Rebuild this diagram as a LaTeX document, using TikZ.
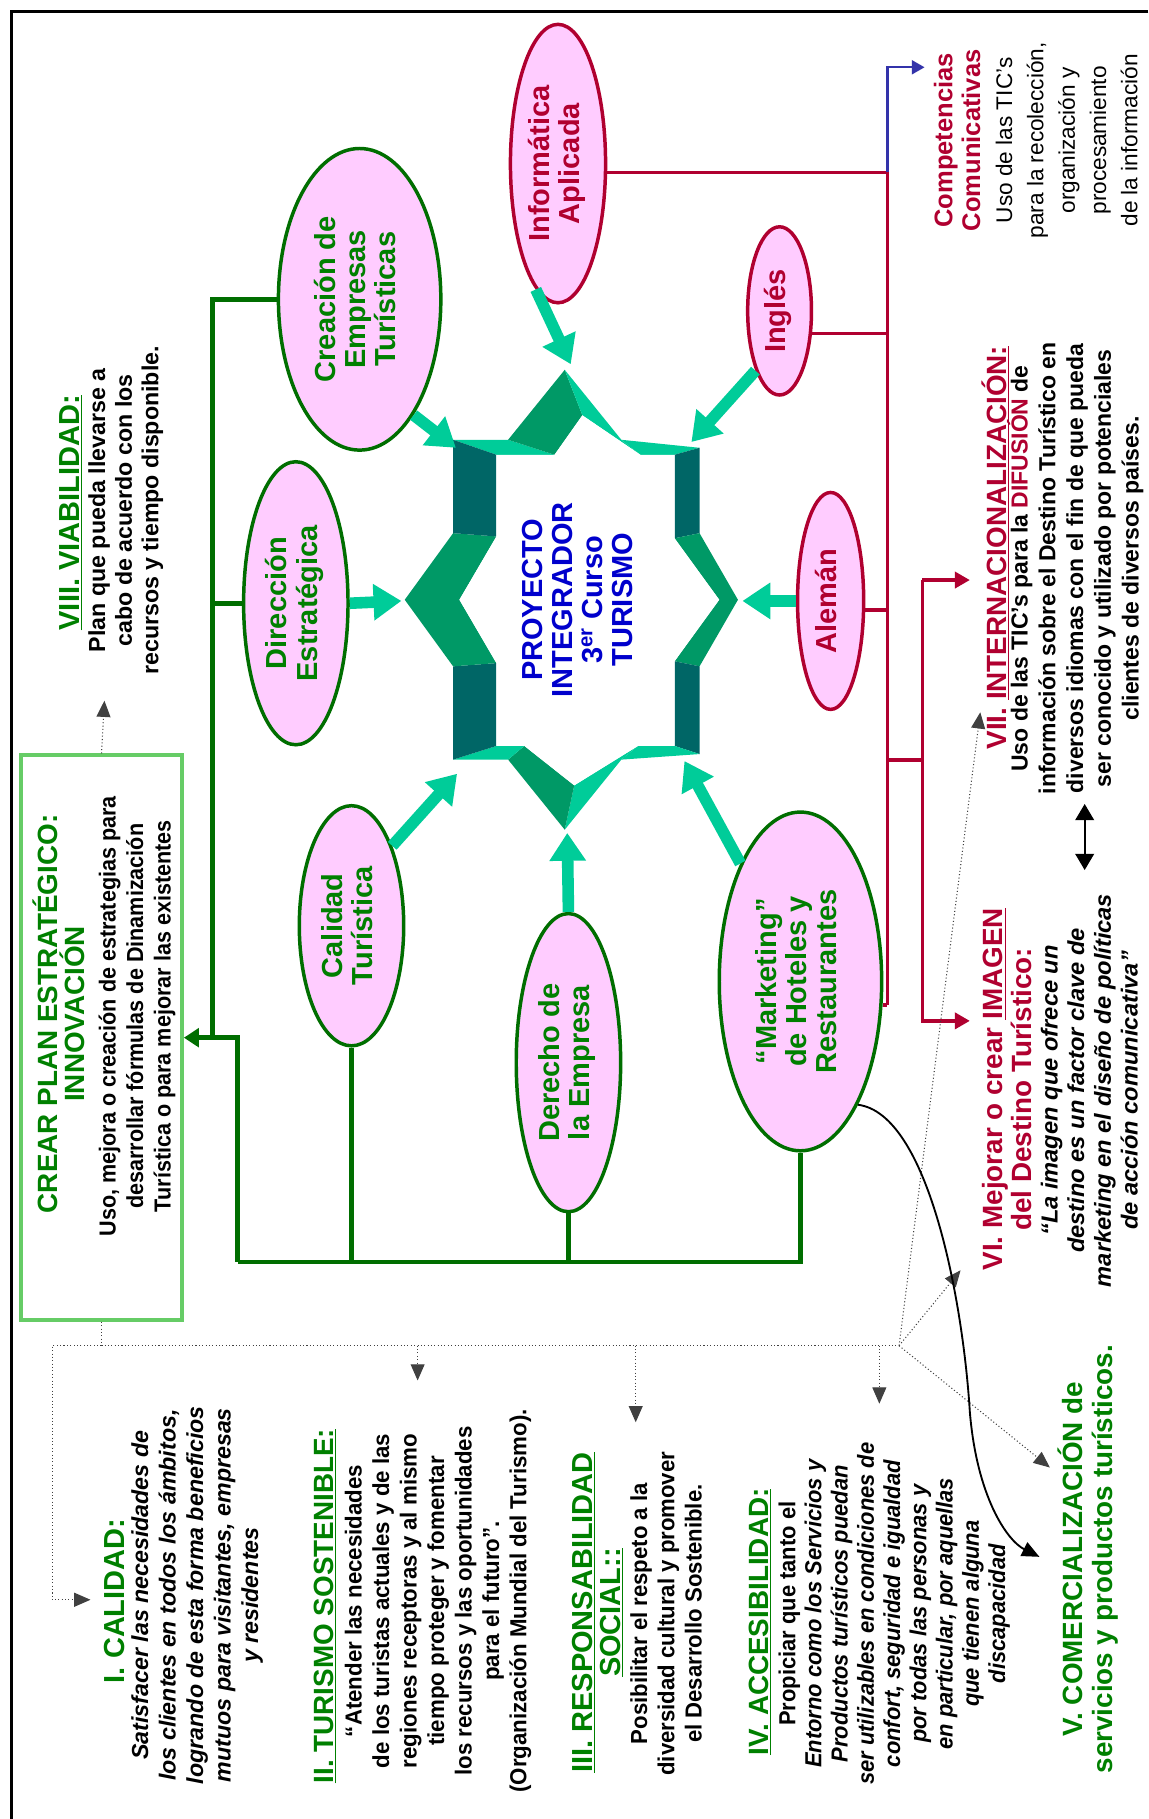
\documentclass[tikz,border=0pt]{standalone}
\usepackage{fontspec}
\setmainfont{Liberation Sans}
\usepackage{graphicx}
\usetikzlibrary{arrows.meta,shapes.geometric}
\definecolor{dgreen}{RGB}{0,110,0}
\definecolor{tgreen}{RGB}{0,128,0}
\definecolor{crim}{RGB}{176,0,48}
\definecolor{pinkfill}{RGB}{255,204,255}
\definecolor{aqua}{RGB}{0,204,153}
\definecolor{midg}{RGB}{0,153,102}
\definecolor{darkt}{RGB}{0,102,102}
\definecolor{bluet}{RGB}{0,0,204}
\definecolor{bline}{RGB}{51,51,170}
\definecolor{boxg}{RGB}{102,204,102}
\newcommand{\fs}[2]{\fontsize{#1pt}{#2pt}\selectfont}
\newcommand{\rt}[1]{\rotatebox{90}{\begin{tabular}{@{}c@{}}#1\end{tabular}}}
\newcommand{\bodytext}[2][0.97]{\scalebox{#1}[1]{\begin{tabular}{@{}c@{}}#2\end{tabular}}}
\begin{document}
\begin{tikzpicture}[x=1pt,y=-1pt,
  ellG/.style={ellipse, draw=dgreen, line width=3pt, fill=pinkfill, inner sep=0pt, text=tgreen, font=\bfseries\fs{25}{26}},
  ellR/.style={ellG, draw=crim, text=crim},
  gline/.style={draw=dgreen, line width=4pt},
  rline/.style={draw=crim, line width=3pt},
  fat/.style={draw=aqua, line width=10pt, -{Triangle[width=30pt,length=24pt]}},
  dotl/.style={draw=black!75, line width=0.9pt, dotted},
  tnode/.style={rotate=90, inner sep=0pt, align=center, font=\bfseries\fs{24}{25}},
  bnode/.style={rotate=90, inner sep=0pt, font=\bfseries\fs{20}{23.5}},
  ]
\useasboundingbox (0,0) rectangle (990,1568);
\fill[white] (0,0) rectangle (990,1568);
% frame
\coordinate (fr1) at (990,10); \coordinate (fr2) at (10,10); \coordinate (fr3) at (10,1568);
\draw[line width=3pt] (fr1) -- (fr2) -- (fr3);

% ---------- star ----------
\coordinate (o1) at (390.6,379.1); \coordinate (o2) at (438,379.1);
\coordinate (o3) at (486.8,318.8); \coordinate (o4) at (535.6,379.1);
\coordinate (o5) at (603,386);     \coordinate (o6) at (603,459.6);
\coordinate (o7) at (636.1,517);   \coordinate (o8) at (603,574.4);
\coordinate (o9) at (603,650);     \coordinate (o10) at (535.6,654.8);
\coordinate (o11) at (486.8,715.2);\coordinate (o12) at (438,654.8);
\coordinate (o13) at (390.6,654.8);\coordinate (o14) at (390.6,574.4);
\coordinate (o15) at (348.9,517);  \coordinate (o16) at (390.6,459.6);
\coordinate (i1) at (427.9,392); \coordinate (i2) at (478,392);
\coordinate (i3) at (502,358);     \coordinate (i4) at (552,392);
\coordinate (i5) at (581.5,392); \coordinate (i6) at (581.5,464);
\coordinate (i7) at (620,517);   \coordinate (i8) at (581.5,570);
\coordinate (i9) at (581.5,643); \coordinate (i10) at (550,643);
\coordinate (i11) at (495,677);\coordinate (i12) at (452,643);
\coordinate (i13) at (427.9,643);\coordinate (i14) at (427.9,571.6);
\coordinate (i15) at (396,517);  \coordinate (i16) at (427.9,462.4);
\fill[aqua]  (o1) -- (o2) -- (i2) -- (i1) -- cycle;
\fill[midg]  (o2) -- (o3) -- (i3) -- (i2) -- cycle;
\fill[aqua]  (o3) -- (o4) -- (i4) -- (i3) -- cycle;
\fill[aqua]  (o4) -- (o5) -- (i5) -- (i4) -- cycle;
\fill[darkt] (o5) -- (o6) -- (i6) -- (i5) -- cycle;
\fill[midg]  (o6) -- (o7) -- (i7) -- (i6) -- cycle;
\fill[midg]  (o7) -- (o8) -- (i8) -- (i7) -- cycle;
\fill[darkt] (o8) -- (o9) -- (i9) -- (i8) -- cycle;
\fill[aqua]  (o9) -- (o10) -- (i10) -- (i9) -- cycle;
\fill[aqua]  (o10) -- (o11) -- (i11) -- (i10) -- cycle;
\fill[midg]  (o11) -- (o12) -- (i12) -- (i11) -- cycle;
\fill[aqua]  (o12) -- (o13) -- (i13) -- (i12) -- cycle;
\fill[darkt] (o13) -- (o14) -- (i14) -- (i13) -- cycle;
\fill[midg]  (o14) -- (o15) -- (i15) -- (i14) -- cycle;
\fill[midg]  (o15) -- (o16) -- (i16) -- (i15) -- cycle;
\fill[darkt] (o16) -- (o1) -- (i1) -- (i16) -- cycle;
\fill[white] (i1) -- (i2) -- (i3) -- (i4) -- (i5) -- (i6) -- (i7) -- (i8) -- (i9) -- (i10) -- (i11) -- (i12) -- (i13) -- (i14) -- (i15) -- (i16) -- cycle;
\node[rotate=90, inner sep=0pt, align=center, text=bluet, font=\bfseries\fs{25}{26}] (ctr) at (498,517) {PROYECTO\\INTEGRADOR\\3\textsuperscript{er} Curso\\TURISMO};

% ---------- ellipses ----------
\node[ellR, minimum width=82pt, minimum height=240pt] (inf) at (481,141) {\rt{Informática\\Aplicada}};
\node[ellR, minimum width=55pt, minimum height=145pt] (ing) at (672,268) {\rt{Inglés}};
\node[ellR, minimum width=57pt, minimum height=187pt] (ale) at (716,518) {\rt{Alemán}};
\node[ellG, minimum width=140pt, minimum height=260pt] (cre) at (310,258) {\rt{Creación de\\Empresas\\Turísticas}};
\node[ellG, minimum width=90pt, minimum height=244pt] (dir) at (255,520) {\rt{Dirección\\Estratégica}};
\node[ellG, minimum width=90pt, minimum height=207pt] (cal) at (303,798) {\rt{Calidad\\Turística}};
\node[ellG, minimum width=90pt, minimum height=257pt] (der) at (490,916) {\rt{Derecho de\\la Empresa}};
\node[ellG, minimum width=140pt, minimum height=292pt] (mkt) at (690,846) {\rt{“Marketing”\\de Hoteles y\\Restaurantes}};

% ---------- fat arrows to star ----------
\coordinate (tA) at (492,314); \coordinate (tB) at (596,381);
\coordinate (tC) at (640,518); \coordinate (tD) at (590,656);
\coordinate (tE) at (489,718); \coordinate (tF) at (394,667);
\coordinate (tG) at (346,518); \coordinate (tH) at (393,386);
\draw[fat] (inf.-100) -- (tA);
\draw[fat] (ing.-112) -- (tB);
\draw[fat] (ale.180) -- (tC);
\draw[fat] (mkt.117) -- (tD);
\draw[fat] (der.90) -- (tE);
\draw[fat] (cal.63) -- (tF);
\draw[fat] (dir.0) -- (tG);
\draw[fat] (cre.-65) -- (tH);

% ---------- plan box ----------
\node[draw=boxg, line width=3pt, minimum width=139pt, minimum height=487pt, inner sep=0pt] (plan) at (87.5,894.5) {};

% ---------- dark green connectors ----------
\coordinate (gx1) at (183,0); \coordinate (gx2) at (205,0); \coordinate (gy) at (0,1088);
\draw[gline] (cre.west) -- (cre.west -| gx1) -- (gx1 |- plan.east);
\draw[gline] (dir.west) -- (dir.west -| gx1);
\draw[gline,-{Triangle[width=16pt,length=13pt]}] (gx2 |- gy) -- (gx2 |- plan.east) -- (plan.east);
\draw[gline] (mkt.south) -- (mkt.south |- gy) -- (gx2 |- gy);
\draw[gline] (cal.south) -- (cal.south |- gy);
\draw[gline] (der.south) -- (der.south |- gy);

% ---------- red connectors ----------
\coordinate (rx) at (765,0); \coordinate (rx2) at (795,0);
\coordinate (rmid) at (765,655);
\coordinate (t7r) at (836,500); \coordinate (t6r) at (836,880);
\draw[rline] (inf.-10) -- (inf.-10 -| rx);
\draw[rline] (ing.-35) -- (ing.-35 -| rx);
\draw[rline] (ale.-15) -- (ale.-15 -| rx);
\draw[rline] (mkt.-16) -- (mkt.-16 -| rx);
\draw[rline] (inf.-10 -| rx) -- (mkt.-16 -| rx);
\draw[rline] (rmid) -- (rmid -| rx2);
\draw[rline,-{Triangle[width=14pt,length=13pt]}] (rx2 |- t7r) -- (t7r);
\draw[rline,-{Triangle[width=14pt,length=13pt]}] (rx2 |- t7r) -- (rx2 |- t6r) -- (t6r);
\coordinate (cpt) at (797,58);
\draw[bline, line width=2pt, -{Triangle[width=12pt,length=11pt]}] (inf.-10 -| rx) -- (rx |- cpt) -- (cpt);

% ---------- text blocks ----------
\node[tnode, text=crim, font=\bfseries\fs{22}{24}] (compT) at (825,121) {Competencias\\Comunicativas};
\node[rotate=90, inner sep=0pt, align=center, font=\fs{19.5}{27}] (compB) at (919.5,121) {Uso de las TIC's\\para la recolección,\\organización y\\procesamiento\\de la información};

\node[tnode, text=crim] (t7) at (858,472) {VII. \underline{INTERNACIONALIZACIÓN:}};
\node[bnode, font=\bfseries\fs{20}{23.9}] (b7) at (928.4,490) {\bodytext[0.99]{Uso de las TIC's para la \textcolor{crim}{DIFUSIÓN} de\\información sobre el Destino Turístico en\\diversos idiomas con el fin de que pueda\\ser conocido y utilizado por potenciales\\clientes de diversos países.}};

\node[tnode, text=crim] (t6) at (868.5,939) {VI. Mejorar o crear \underline{IMAGEN}\\del Destino Turístico:};
\node[bnode, font=\bfseries\itshape\fs{20}{23}] (b6) at (941.5,940) {\bodytext[1.02]{“La imagen que ofrece un\\destino es un factor clave de\\marketing en el diseño de políticas\\de acción comunicativa”}};

\node[tnode, text=tgreen, font=\bfseries\fs{24}{26}] (t5) at (938,1344) {V. COMERCIALIZACIÓN de\\servicios y productos turísticos.};

\node[tnode, text=tgreen] (t4) at (655,1398) {\underline{IV. ACCESIBILIDAD:}};
\node[bnode, font=\bfseries\fs{20}{22.6}] (b4) at (771.4,1391) {\bodytext[0.945]{Propiciar que tanto el\\\itshape Entorno como los Servicios y\\\itshape Productos turísticos puedan\\\itshape ser utilizables en condiciones de\\\itshape confort, seguridad e igualdad\\\itshape por todas las personas y\\\itshape en particular, por aquellas\\\itshape que tienen alguna\\\itshape discapacidad}};

\node[tnode, text=tgreen, font=\bfseries\fs{25}{24}] (t3) at (515,1390) {\underline{III. RESPONSABILIDAD}\\\underline{SOCIAL::}};
\node[bnode, font=\bfseries\fs{20}{23.5}] (b3) at (576.7,1391) {\bodytext[0.955]{Posibilitar el respeto a la\\diversidad cultural y promover\\el Desarrollo Sostenible.}};

\node[tnode, text=tgreen] (t2) at (280,1384.5) {\underline{II. TURISMO SOSTENIBLE:}};
\node[bnode, font=\bfseries\fs{20}{23.7}] (b2) at (378,1380) {\bodytext[0.96]{“Atender las necesidades\\de los turistas actuales y de las\\regiones receptoras y al mismo\\tiempo proteger y fomentar\\los recursos y las oportunidades\\para el futuro”.\\(Organización Mundial del Turismo).}};

\node[tnode, text=tgreen, font=\bfseries\fs{25}{25}] (t1) at (99,1380) {I. CALIDAD:};
\node[bnode, font=\bfseries\itshape\fs{20}{23.7}] (b1) at (170.4,1375) {\bodytext[1.0]{Satisfacer las necesidades de\\los clientes en todos los ámbitos,\\logrando de esta forma beneficios\\mutuos para visitantes, empresas\\y residentes}};

\node[tnode, text=tgreen, font=\bfseries\fs{24}{23}] (tP) at (50.5,874) {CREAR PLAN ESTRATÉGICO:\\INNOVACIÓN};
\node[bnode, font=\bfseries\fs{20}{23.7}] (bP) at (118.7,876) {\bodytext[0.93]{Uso, mejora o creación de estrategias para\\desarrollar fórmulas de Dinamización\\Turística o para mejorar las existentes}};

\node[tnode, text=tgreen, font=\bfseries\fs{25}{25}] (t8) at (61,442) {\underline{VIII. VIABILIDAD:}};
\node[bnode, font=\bfseries\fs{20}{23}] (b8) at (109,440) {\bodytext[1.0]{Plan que pueda llevarse a\\cabo de acuerdo con los\\recursos y tiempo disponible.}};

% ---------- dotted connectors ----------
\coordinate (vtip) at (90,604);
\draw[dotl,-{Triangle[width=12pt,length=14pt]}] (plan.north) -- (vtip);
\coordinate (dA) at (87.5,1160); \coordinate (dB) at (775,1160);
\coordinate (dL) at (45,1160); \coordinate (tI) at (78,1379);
\coordinate (tII) at (360,1190); \coordinate (tIII) at (548,1226);
\coordinate (tIV) at (758,1210);
\coordinate (t6d) at (828,1095); \coordinate (t5d) at (905,1265); \coordinate (t7d) at (845,614);
\draw[dotl] (plan.south) -- (dA) -- (dB);
\draw[dotl,-{Triangle[width=12pt,length=14pt]}] (dA) -- (dL) -- (dL |- tI) -- (tI);
\draw[dotl,-{Triangle[width=12pt,length=14pt]}] (tII |- dA) -- (tII);
\draw[dotl,-{Triangle[width=12pt,length=14pt]}] (tIII |- dA) -- (tIII);
\draw[dotl,-{Triangle[width=12pt,length=14pt]}] (tIV |- dA) -- (tIV);
\draw[dotl,-{Triangle[width=12pt,length=14pt]}] (dB) -- (t6d);
\draw[dotl,-{Triangle[width=12pt,length=14pt]}] (dB) -- (t5d);
\draw[dotl,-{Triangle[width=12pt,length=14pt]}] (dB) -- (t7d);

% solid curve from Marketing
\coordinate (t5c) at (896,1342);
\draw[line width=1.6pt, -{Triangle[width=13pt,length=15pt]}] (mkt.-65) .. controls (800,960) and (830,1120) .. (836,1217) .. controls (842,1290) and (868,1328) .. (t5c);

% double arrow between VII and VI
\coordinate (d1) at (935,693); \coordinate (d2) at (935,750);
\draw[line width=2pt, {Triangle[width=16pt,length=14pt]}-{Triangle[width=16pt,length=14pt]}] (d1) -- (d2);
\end{tikzpicture}
\end{document}
